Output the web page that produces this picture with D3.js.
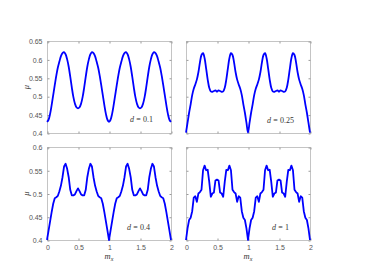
<html>
<head>
    <script src="https://cdnjs.cloudflare.com/ajax/libs/d3/7.8.5/d3.min.js"></script>
    <style>
        body { margin: 0; background: #fff; }
    </style>
</head>
<body>
<script>
    // m_x grid, step 0.025 from 0 to 2
    const mx = d3.range(81).map(i => i * 0.025);

    // mu values, one per m_x grid point
    const muD01 = [
        0.430, 0.436, 0.452, 0.476, 0.503, 0.530, 0.556, 0.578, 0.594, 0.609, 0.617, 0.620, 0.614, 0.600, 0.580, 0.553, 0.524, 0.498, 0.480, 0.470, 0.467,
        0.470, 0.480, 0.498, 0.524, 0.553, 0.580, 0.600, 0.614, 0.620, 0.617, 0.609, 0.594, 0.578, 0.556, 0.530, 0.503, 0.476, 0.452, 0.436, 0.430,
        0.436, 0.452, 0.476, 0.503, 0.530, 0.556, 0.578, 0.594, 0.609, 0.617, 0.620, 0.614, 0.600, 0.580, 0.553, 0.524, 0.498, 0.480, 0.470, 0.467,
        0.470, 0.480, 0.498, 0.524, 0.553, 0.580, 0.600, 0.614, 0.620, 0.617, 0.609, 0.594, 0.578, 0.556, 0.530, 0.503, 0.476, 0.452, 0.436, 0.430
    ];
    const muD025 = [
        0.401, 0.428, 0.455, 0.478, 0.503, 0.520, 0.532, 0.545, 0.565, 0.592, 0.612, 0.617, 0.603, 0.575, 0.545, 0.523, 0.513, 0.512, 0.514, 0.516, 0.512,
        0.516, 0.514, 0.512, 0.513, 0.523, 0.545, 0.575, 0.603, 0.617, 0.612, 0.592, 0.565, 0.545, 0.532, 0.520, 0.503, 0.478, 0.455, 0.428, 0.401,
        0.428, 0.455, 0.478, 0.503, 0.520, 0.532, 0.545, 0.565, 0.592, 0.612, 0.617, 0.603, 0.575, 0.545, 0.523, 0.513, 0.512, 0.514, 0.516, 0.512,
        0.516, 0.514, 0.512, 0.513, 0.523, 0.545, 0.575, 0.603, 0.617, 0.612, 0.592, 0.565, 0.545, 0.532, 0.520, 0.503, 0.478, 0.455, 0.428, 0.401
    ];
    const muD04 = [
        0.400, 0.420, 0.440, 0.460, 0.478, 0.490, 0.492, 0.495, 0.505, 0.517, 0.535, 0.558, 0.564, 0.553, 0.535, 0.508, 0.496, 0.496, 0.498, 0.505, 0.511,
        0.505, 0.498, 0.496, 0.496, 0.508, 0.535, 0.553, 0.564, 0.558, 0.535, 0.517, 0.505, 0.495, 0.492, 0.490, 0.478, 0.460, 0.440, 0.420, 0.400,
        0.420, 0.440, 0.460, 0.478, 0.490, 0.492, 0.495, 0.505, 0.517, 0.535, 0.558, 0.564, 0.553, 0.535, 0.508, 0.496, 0.496, 0.498, 0.505, 0.511,
        0.505, 0.498, 0.496, 0.496, 0.508, 0.535, 0.553, 0.564, 0.558, 0.535, 0.517, 0.505, 0.495, 0.492, 0.490, 0.478, 0.460, 0.440, 0.420, 0.400
    ];
    const muD1 = [
        0.400, 0.425, 0.443, 0.448, 0.462, 0.491, 0.494, 0.482, 0.500, 0.503, 0.508, 0.550, 0.560, 0.550, 0.551, 0.525, 0.493, 0.500, 0.502, 0.528, 0.530,
        0.528, 0.502, 0.500, 0.493, 0.525, 0.551, 0.550, 0.560, 0.550, 0.508, 0.503, 0.500, 0.482, 0.494, 0.491, 0.462, 0.448, 0.443, 0.425, 0.400,
        0.425, 0.443, 0.448, 0.462, 0.491, 0.494, 0.482, 0.500, 0.503, 0.508, 0.550, 0.560, 0.550, 0.551, 0.525, 0.493, 0.500, 0.502, 0.528, 0.530,
        0.528, 0.502, 0.500, 0.493, 0.525, 0.551, 0.550, 0.560, 0.550, 0.508, 0.503, 0.500, 0.482, 0.494, 0.491, 0.462, 0.448, 0.443, 0.425, 0.400
    ];

    const xTicks = [0, 0.5, 1, 1.5, 2];
    const yTicksTop = [0.4, 0.45, 0.5, 0.55, 0.6, 0.65];
    const yTicksBottom = [0.4, 0.45, 0.5, 0.55, 0.6];
    const dLabels = ['0.1', '0.25', '0.4', '1'];

    const width = 369, height = 270;
    const cols = [[47, 171], [186, 310]];
    const rows = [[133, 41], [240, 147]];
    const yDomains = [[0.4, 0.65], [0.4, 0.6]];
    const yTicksRows = [yTicksTop, yTicksBottom];

    const panels = [
        { values: muD01, label: dLabels[0], col: 0, row: 0, curve: d3.curveCatmullRom, lx: 130, ly: 122 },
        { values: muD025, label: dLabels[1], col: 1, row: 0, curve: d3.curveCatmullRom, lx: 267, ly: 123 },
        { values: muD04, label: dLabels[2], col: 0, row: 1, curve: d3.curveLinear, lx: 127, ly: 230 },
        { values: muD1, label: dLabels[3], col: 1, row: 1, curve: d3.curveLinear, lx: 272, ly: 230 }
    ];

    const svg = d3.select('body').append('svg')
        .attr('width', width)
        .attr('height', height);

    const tickFont = '"Liberation Sans", Arial, sans-serif';
    const mathFont = '"Liberation Serif", "Times New Roman", serif';

    panels.forEach(p => {
        const x = d3.scaleLinear().domain([0, 2]).range(cols[p.col]);
        const y = d3.scaleLinear().domain(yDomains[p.row]).range(rows[p.row]);
        const yTicks = yTicksRows[p.row];
        const g = svg.append('g');

        // box
        g.append('rect')
            .attr('x', x.range()[0] + 0.5)
            .attr('y', y.range()[1] + 0.5)
            .attr('width', x.range()[1] - x.range()[0])
            .attr('height', y.range()[0] - y.range()[1])
            .attr('fill', 'none')
            .attr('stroke', '#c4c4c4')
            .attr('stroke-width', 1);

        const showX = p.row === 1;
        const showY = p.col === 0;

        const axes = [
            { axis: d3.axisBottom(x).tickValues(xTicks), t: `translate(0.5,${y.range()[0] + 0.5})`, labels: showX },
            { axis: d3.axisTop(x).tickValues(xTicks), t: `translate(0.5,${y.range()[1] + 0.5})`, labels: false },
            { axis: d3.axisLeft(y).tickValues(yTicks), t: `translate(${x.range()[0] + 0.5},0.5)`, labels: showY },
            { axis: d3.axisRight(y).tickValues(yTicks), t: `translate(${x.range()[1] + 0.5},0.5)`, labels: false }
        ];
        axes.forEach(a => {
            const ag = g.append('g')
                .attr('transform', a.t)
                .call(a.axis.tickSize(-2).tickPadding(a.labels ? 5 : 0).tickFormat(a.labels ? (d => String(d)) : ''));
            ag.select('.domain').remove();
            ag.selectAll('line').attr('stroke', '#9a9a9a');
            ag.selectAll('text')
                .attr('font-family', tickFont)
                .attr('font-size', 7)
                .attr('fill', '#555');
        });

        const line = d3.line()
            .x((d, i) => x(mx[i]))
            .y(d => y(d))
            .curve(p.curve);

        g.append('path')
            .datum(p.values)
            .attr('d', line)
            .attr('fill', 'none')
            .attr('stroke', '#0000ff')
            .attr('stroke-width', 1.8)
            .attr('stroke-linejoin', 'round');

        // "d = value" note, spaced like LaTeX
        const t = g.append('text')
            .attr('x', p.lx)
            .attr('y', p.ly)
            .attr('font-family', mathFont)
            .attr('font-size', 8)
            .attr('fill', '#333');
        t.append('tspan').attr('font-style', 'italic').text('d');
        t.append('tspan').attr('dx', 2.2).text('=');
        t.append('tspan').attr('dx', 2.2).text(p.label);

        if (showY) {
            g.append('text')
                .attr('transform', `translate(28.5,${(y.range()[0] + y.range()[1]) / 2}) rotate(-90)`)
                .attr('text-anchor', 'middle')
                .attr('font-family', mathFont)
                .attr('font-style', 'italic')
                .attr('font-size', 8.5)
                .attr('fill', '#333')
                .text('μ');
        }
        if (showX) {
            const xl = g.append('text')
                .attr('x', (x.range()[0] + x.range()[1]) / 2)
                .attr('y', 259)
                .attr('text-anchor', 'middle')
                .attr('font-family', mathFont)
                .attr('font-style', 'italic')
                .attr('font-size', 8.5)
                .attr('fill', '#333');
            xl.append('tspan').text('m');
            xl.append('tspan').attr('font-size', 6).attr('dy', 1.5).text('x');
        }
    });
</script>
</body>
</html>
